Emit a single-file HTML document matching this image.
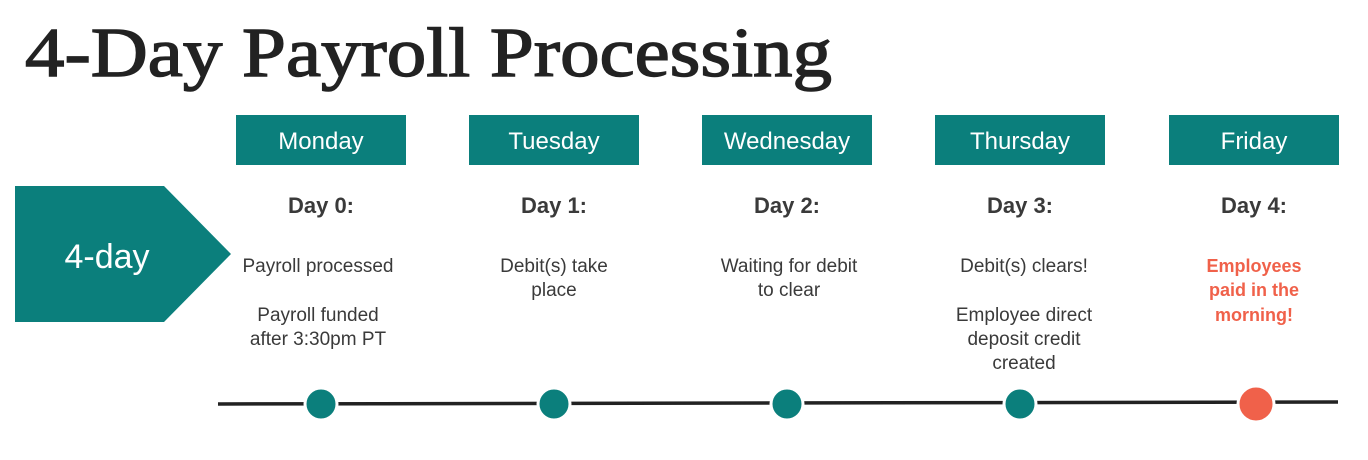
<!DOCTYPE html>
<html><head><meta charset="utf-8"><style>
html,body{margin:0;padding:0;background:#fff;}
svg{display:block;}
text{font-family:"Liberation Sans",sans-serif;}
</style></head><body>
<svg width="1368" height="460" viewBox="0 0 1368 460" xmlns="http://www.w3.org/2000/svg">
<text x="25" y="76" style="font-family:'Liberation Serif',serif" font-size="70" font-weight="normal" fill="#222" stroke="#222" stroke-width="1.4" textLength="807" lengthAdjust="spacingAndGlyphs">4-Day Payroll Processing</text>
<g fill="#0b7f7c">
<rect x="236" y="115" width="170" height="50"/>
<rect x="469" y="115" width="170" height="50"/>
<rect x="702" y="115" width="170" height="50"/>
<rect x="935" y="115" width="170" height="50"/>
<rect x="1169" y="115" width="170" height="50"/>
<polygon points="15,186 164,186 231,254 164,322 15,322"/>
</g>
<g fill="#fff" font-size="24" text-anchor="middle">
<text x="321" y="149">Monday</text>
<text x="554" y="149">Tuesday</text>
<text x="787" y="149">Wednesday</text>
<text x="1020" y="149">Thursday</text>
<text x="1254" y="149">Friday</text>
<text x="107" y="268" font-size="34">4-day</text>
</g>
<g fill="#3a3a3a" font-size="22" font-weight="bold" text-anchor="middle">
<text x="321" y="213">Day 0:</text>
<text x="554" y="213">Day 1:</text>
<text x="787" y="213">Day 2:</text>
<text x="1020" y="213">Day 3:</text>
<text x="1254" y="213">Day 4:</text>
</g>
<g fill="#3a3a3a" font-size="19" text-anchor="middle">
<text x="318" y="272">Payroll processed</text>
<text x="318" y="321">Payroll funded</text>
<text x="318" y="345">after 3:30pm PT</text>
<text x="554" y="272">Debit(s) take</text>
<text x="554" y="296">place</text>
<text x="789" y="272">Waiting for debit</text>
<text x="789" y="296">to clear</text>
<text x="1024" y="272">Debit(s) clears!</text>
<text x="1024" y="321">Employee direct</text>
<text x="1024" y="345">deposit credit</text>
<text x="1024" y="369">created</text>
</g>
<g fill="#f0614a" font-size="18" font-weight="bold" text-anchor="middle">
<text x="1254" y="272">Employees</text>
<text x="1254" y="296">paid in the</text>
<text x="1254" y="321">morning!</text>
</g>
<line x1="218" y1="404" x2="1338" y2="402" stroke="#222" stroke-width="3.5"/>
<g fill="#0b7f7c" stroke="#fff" stroke-width="3">
<circle cx="321" cy="404" r="16"/>
<circle cx="554" cy="404" r="16"/>
<circle cx="787" cy="404" r="16"/>
<circle cx="1020" cy="404" r="16"/>
<circle cx="1256" cy="404" r="18" fill="#f0614a"/>
</g>
</svg>
</body></html>
